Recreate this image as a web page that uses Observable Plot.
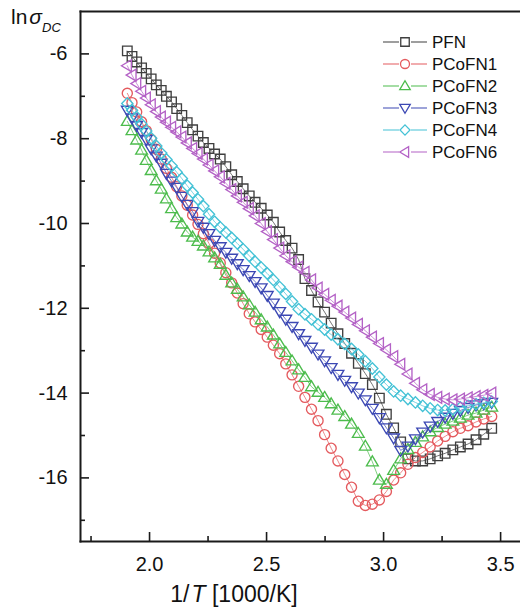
<!DOCTYPE html>
<html><head><meta charset="utf-8">
<script src="https://cdn.jsdelivr.net/npm/d3@7"></script>
<script src="https://cdn.jsdelivr.net/npm/@observablehq/plot@0.6"></script>
<style>
body{margin:0;background:#fff;}
#wrap{position:relative;width:520px;height:612px;}
</style></head><body><div id="wrap"></div>
<script>
const invT = [1.905,1.925,1.945,1.966,1.986,2.007,2.029,2.050,2.072,2.094,
2.116,2.138,2.161,2.184,2.207,2.230,2.254,2.278,2.302,2.326,
2.351,2.375,2.400,2.426,2.451,2.477,2.503,2.529,2.556,2.582,
2.609,2.637,2.664,2.692,2.720,2.748,2.776,2.805,2.834,2.863,
2.892,2.922,2.952,2.982,3.012,3.043,3.073,3.104,3.136,3.167,
3.199,3.231,3.263,3.296,3.328,3.361,3.395,3.428,3.462];

const PFN = [-5.93,-6.06,-6.19,-6.33,-6.46,-6.59,-6.73,-6.86,-7.00,-7.13,
-7.29,-7.45,-7.62,-7.79,-7.94,-8.09,-8.23,-8.36,-8.48,-8.66,
-8.85,-9.01,-9.18,-9.35,-9.50,-9.64,-9.80,-9.97,-10.20,-10.40,
-10.58,-10.85,-11.30,-11.58,-11.85,-12.09,-12.35,-12.60,-12.83,-13.06,
-13.30,-13.54,-13.80,-14.12,-14.50,-14.82,-15.15,-15.55,-15.60,-15.60,
-15.55,-15.48,-15.42,-15.34,-15.27,-15.20,-15.10,-14.97,-14.83];

const PCoFN1 = [-6.93,-7.15,-7.37,-7.60,-7.81,-8.02,-8.25,-8.48,-8.70,-8.91,
-9.13,-9.35,-9.57,-9.80,-10.02,-10.24,-10.47,-10.70,-10.93,-11.16,
-11.40,-11.64,-11.89,-12.13,-12.32,-12.50,-12.68,-12.87,-13.07,-13.31,
-13.57,-13.84,-14.10,-14.38,-14.65,-14.98,-15.30,-15.60,-15.92,-16.22,
-16.55,-16.65,-16.62,-16.52,-16.32,-16.05,-15.88,-15.68,-15.52,-15.40,
-15.27,-15.13,-15.02,-14.91,-14.83,-14.77,-14.68,-14.61,-14.55];

const PCoFN2 = [-7.59,-7.81,-8.03,-8.27,-8.51,-8.75,-8.99,-9.19,-9.42,-9.65,
-9.86,-10.01,-10.20,-10.32,-10.42,-10.53,-10.67,-10.81,-10.96,-11.22,
-11.40,-11.55,-11.73,-11.92,-12.09,-12.27,-12.44,-12.63,-12.84,-13.04,
-13.24,-13.45,-13.63,-13.85,-13.98,-14.10,-14.25,-14.40,-14.55,-14.73,
-14.95,-15.25,-15.62,-16.05,-16.15,-15.82,-15.55,-15.33,-15.16,-15.03,
-14.91,-14.81,-14.73,-14.66,-14.59,-14.52,-14.47,-14.40,-14.33];

const PCoFN3 = [-7.33,-7.51,-7.69,-7.85,-8.02,-8.24,-8.41,-8.58,-8.82,-9.00,
-9.15,-9.36,-9.55,-9.72,-9.95,-10.09,-10.24,-10.40,-10.55,-10.68,
-10.82,-10.95,-11.09,-11.23,-11.37,-11.52,-11.70,-11.88,-12.08,-12.26,
-12.43,-12.60,-12.76,-12.92,-13.08,-13.24,-13.40,-13.56,-13.70,-13.85,
-14.00,-14.16,-14.36,-14.58,-14.82,-15.06,-15.35,-15.25,-15.08,-14.92,
-14.78,-14.67,-14.57,-14.48,-14.41,-14.34,-14.28,-14.25,-14.22];

const PCoFN4 = [-7.17,-7.33,-7.49,-7.66,-7.82,-7.99,-8.17,-8.34,-8.49,-8.64,
-8.79,-8.94,-9.11,-9.27,-9.43,-9.59,-9.78,-9.96,-10.09,-10.21,
-10.34,-10.47,-10.61,-10.76,-10.90,-11.04,-11.18,-11.33,-11.50,-11.66,
-11.84,-12.02,-12.14,-12.26,-12.38,-12.50,-12.62,-12.73,-12.84,-12.96,
-13.09,-13.25,-13.42,-13.62,-13.80,-13.96,-14.06,-14.14,-14.22,-14.30,
-14.36,-14.40,-14.41,-14.38,-14.34,-14.30,-14.26,-14.23,-14.20];

const PCoFN6 = [-6.28,-6.50,-6.70,-6.88,-7.04,-7.20,-7.36,-7.49,-7.61,-7.73,
-7.84,-7.96,-8.10,-8.23,-8.35,-8.48,-8.62,-8.76,-8.90,-9.05,
-9.20,-9.35,-9.50,-9.65,-9.82,-10.00,-10.19,-10.38,-10.58,-10.76,
-10.90,-11.03,-11.15,-11.33,-11.52,-11.67,-11.81,-11.95,-12.09,-12.23,
-12.38,-12.53,-12.68,-12.83,-12.98,-13.14,-13.32,-13.55,-13.77,-13.92,
-14.03,-14.10,-14.14,-14.16,-14.14,-14.11,-14.08,-14.05,-14.00];

const seriesNames = ["PFN","PCoFN1","PCoFN2","PCoFN3","PCoFN4","PCoFN6"];
const seriesValues = [PFN, PCoFN1, PCoFN2, PCoFN3, PCoFN4, PCoFN6];
const seriesColors = ["#3f3f3f","#e45a5e","#4cbc4c","#3c48b4","#44c2d6","#b462c6"];
const seriesSymbols = ["square","circle","triangleUp","triangleDown","diamond","triangleLeft"];

const xTicks = [2.0, 2.5, 3.0, 3.5];
const xMinorTicks = [1.75, 2.25, 2.75, 3.25];
const yTicks = [-6, -8, -10, -12, -14, -16];
const yMinorTicks = [-7, -9, -11, -13, -15, -17];
const xDomain = [1.705, 3.585];
const yDomain = [-17.5, -5];

function poly(pts) {
  return {draw(ctx, size) {
    const r = Math.sqrt(size / Math.PI);
    ctx.moveTo(pts[0][0] * r, pts[0][1] * r);
    for (let i = 1; i < pts.length; i++) ctx.lineTo(pts[i][0] * r, pts[i][1] * r);
    ctx.closePath();
  }};
}
const symbolDefs = {
  square: poly([[-0.85,-0.85],[0.85,-0.85],[0.85,0.85],[-0.85,0.85]]),
  circle: {draw(ctx, size) { const r = Math.sqrt(size / Math.PI) * 0.9; ctx.moveTo(r, 0); ctx.arc(0, 0, r, 0, 2 * Math.PI); }},
  triangleUp: poly([[0,-1.05],[1.05,0.72],[-1.05,0.72]]),
  triangleDown: poly([[0,1.05],[1.05,-0.72],[-1.05,-0.72]]),
  diamond: poly([[0,-1.02],[1.0,0],[0,1.02],[-1.0,0]]),
  triangleLeft: poly([[-1.05,0],[0.72,-1.05],[0.72,1.05]])
};

const seriesData = seriesNames.map((name, i) => invT.map((x, k) => ({x, y: seriesValues[i][k], name})));

const marks = [];
seriesData.forEach((d, i) => {
  marks.push(Plot.line(d, {x: "x", y: "y", stroke: seriesColors[i], strokeWidth: 0.9, strokeOpacity: 0.8}));
  marks.push(Plot.dot(d, {x: "x", y: "y", r: 5.6, symbol: symbolDefs[seriesSymbols[i]], stroke: seriesColors[i], strokeWidth: 1.35, fill: "none"}));
});

const axisFont = {fontSize: 20, fill: "#111"};
const chart = Plot.plot({
  width: 520, height: 612,
  marginLeft: 80, marginRight: 0, marginTop: 11, marginBottom: 71,
  style: {fontFamily: "'Liberation Sans', Arial, sans-serif", background: "#fff", overflow: "visible"},
  x: {domain: xDomain},
  y: {domain: yDomain},
  marks: [
    ...marks,
    Plot.frame({anchor: "left", stroke: "#1a1a1a", strokeWidth: 2}),
    Plot.frame({anchor: "bottom", stroke: "#1a1a1a", strokeWidth: 2}),
    Plot.frame({anchor: "top", stroke: "#1a1a1a", strokeWidth: 2}),
    Plot.axisX(xTicks, {tickSize: -9, tickPadding: 24, strokeWidth: 1.6, stroke: "#1a1a1a", tickFormat: d => d.toFixed(1), label: null, ...axisFont}),
    Plot.axisX(xMinorTicks, {tickSize: -5, strokeWidth: 1.6, stroke: "#1a1a1a", fill: "none", label: null}),
    Plot.axisY(yTicks, {tickSize: -9, tickPadding: 22, strokeWidth: 1.6, stroke: "#1a1a1a", tickFormat: d => String(d), label: null, ...axisFont}),
    Plot.axisY(yMinorTicks, {tickSize: -5, strokeWidth: 1.6, stroke: "#1a1a1a", fill: "none", label: null})
  ]
});
document.getElementById("wrap").appendChild(chart);

const svg = d3.select(chart);
const fontFam = "'Liberation Sans', Arial, sans-serif";
// y-axis title
const yt = svg.append("text").attr("x", 11).attr("y", 24).attr("fill", "#111").attr("text-anchor", "start")
  .style("font-family", fontFam).style("font-size", "21px");
yt.append("tspan").text("ln");
yt.append("tspan").attr("dx", 2).style("font-style", "italic").text("σ");
yt.append("tspan").attr("dy", 8).style("font-style", "italic").style("font-size", "13px").text("DC");
// x-axis title
const xt = svg.append("text").attr("x", 234).attr("y", 602).attr("text-anchor", "middle").attr("fill", "#111")
  .style("font-family", fontFam).style("font-size", "23px");
xt.append("tspan").text("1/");
xt.append("tspan").attr("dx", 2).style("font-style", "italic").text("T");
xt.append("tspan").text(" [1000/K]");

// legend
const lg = svg.append("g").attr("transform", "translate(383,42)");
seriesNames.forEach((name, i) => {
  const row = lg.append("g").attr("transform", `translate(0,${i * 22})`);
  row.append("line").attr("x1", 0).attr("x2", 44).attr("y1", 0).attr("y2", 0)
    .attr("stroke", seriesColors[i]).attr("stroke-width", 1.2);
  row.append("rect").attr("x", 16).attr("y", -5).attr("width", 12).attr("height", 10).attr("fill", "#fff");
  row.append("path").attr("transform", "translate(22,0)")
    .attr("d", d3.symbol(symbolDefs[seriesSymbols[i]], Math.PI * 25)())
    .attr("fill", "none").attr("stroke", seriesColors[i]).attr("stroke-width", 1.3);
  row.append("text").attr("x", 49).attr("y", 0).attr("dy", "0.36em").attr("fill", "#111").attr("text-anchor", "start")
    .style("font-family", fontFam).style("font-size", "17px").text(name);
});
</script>
</body></html>
